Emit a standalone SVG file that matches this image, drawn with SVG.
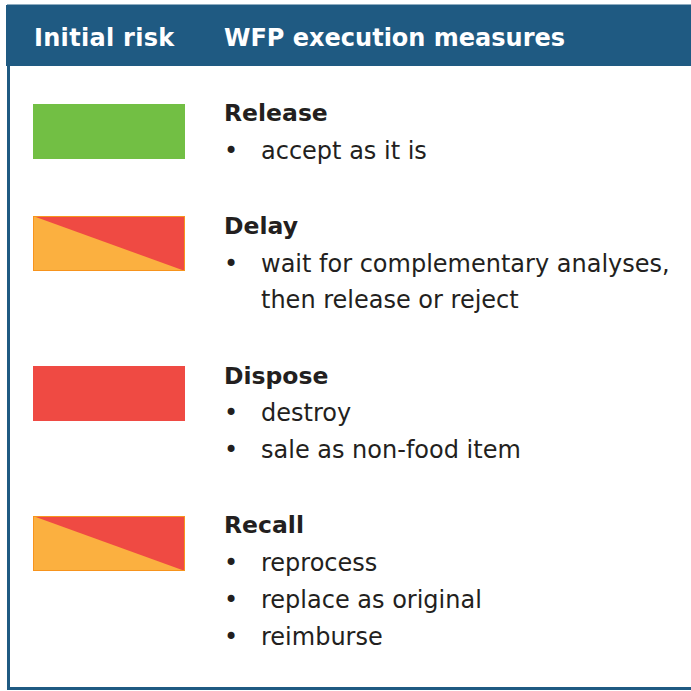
<svg xmlns="http://www.w3.org/2000/svg" width="691" height="691" viewBox="0 0 691 691">
<defs>
<style>
.hd{font-family:"DejaVu Sans",Verdana,sans-serif;font-weight:bold;font-size:24px;fill:#ffffff}
.ti{font-family:"DejaVu Sans",Verdana,sans-serif;font-weight:bold;font-size:23.5px;fill:#231f20}
.tx{font-family:"DejaVu Sans",Verdana,sans-serif;font-size:24px;fill:#231f20}
.or{fill:#fbb040}
.rd{fill:#ef4a43}
.gr{fill:#72bf44}
.edge{fill:none;stroke:#f7941d;stroke-width:1}
</style>
</defs>
<rect width="691" height="691" fill="#ffffff"/>
<rect x="8.5" y="6" width="690" height="682.5" fill="none" stroke="#1f5a82" stroke-width="3"/>
<rect x="6" y="5" width="685" height="61" fill="#1f5a82"/>
<text class="hd" x="34" y="46" letter-spacing="0.3">Initial risk</text>
<text class="hd" x="224" y="46">WFP execution measures</text>
<g id="release">
<rect class="gr" x="33" y="104" width="152" height="55"/>
<text class="ti" x="224" y="121">Release</text>
<text class="tx" x="224" y="159">•</text><text class="tx" x="261" y="159">accept as it is</text>
</g>
<g id="delay">
<rect class="rd" x="33" y="216" width="152" height="55"/>
<polygon class="or" points="33,216 185,271 33,271"/>
<rect class="edge" x="33.5" y="216.5" width="151" height="54"/>
<text class="ti" x="224" y="234">Delay</text>
<text class="tx" x="224" y="272">•</text><text class="tx" x="261" y="272">wait for complementary analyses,</text>
<text class="tx" x="261" y="308">then release or reject</text>
</g>
<g id="dispose">
<rect class="rd" x="33" y="366" width="152" height="55"/>
<text class="ti" x="224" y="384">Dispose</text>
<text class="tx" x="224" y="421">•</text><text class="tx" x="261" y="421">destroy</text>
<text class="tx" x="224" y="458">•</text><text class="tx" x="261" y="458">sale as non-food item</text>
</g>
<g id="recall">
<rect class="rd" x="33" y="516" width="152" height="55"/>
<polygon class="or" points="33,516 185,571 33,571"/>
<rect class="edge" x="33.5" y="516.5" width="151" height="54"/>
<text class="ti" x="224" y="533">Recall</text>
<text class="tx" x="224" y="571">•</text><text class="tx" x="261" y="571">reprocess</text>
<text class="tx" x="224" y="608">•</text><text class="tx" x="261" y="608">replace as original</text>
<text class="tx" x="224" y="645">•</text><text class="tx" x="261" y="645">reimburse</text>
</g>
<g id="connectors"/>
</svg>
